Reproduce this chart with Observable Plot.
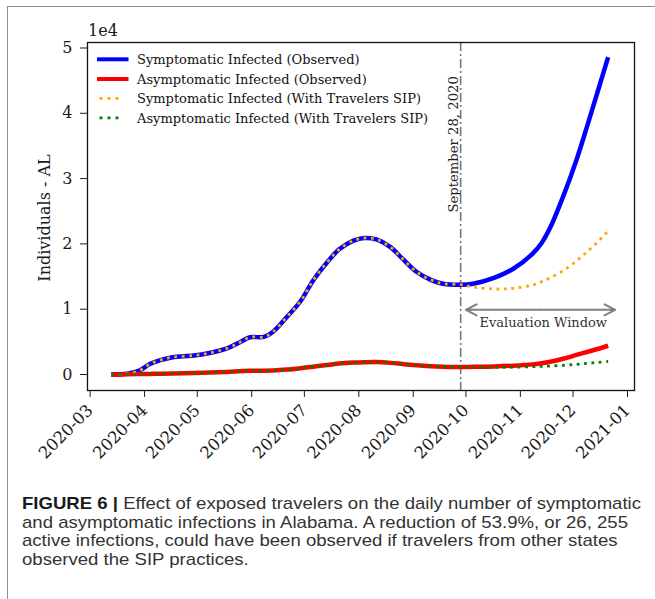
<!DOCTYPE html>
<html><head><meta charset="utf-8">
<script src="https://cdn.jsdelivr.net/npm/d3@7"></script>
<script src="https://cdn.jsdelivr.net/npm/@observablehq/plot@0.6"></script>
<style>
html,body{margin:0;padding:0;background:#fff;}
#wrap{position:relative;width:655px;height:599px;overflow:hidden;}
#box{position:absolute;left:7px;top:6px;width:700px;height:700px;border-top:1.5px solid #8f8f8f;border-left:1.5px solid #8f8f8f;}
#chart{position:absolute;left:0;top:0;}
#caption{position:absolute;left:22px;top:494px;font-family:"Liberation Sans",sans-serif;font-size:16.2px;line-height:18.7px;color:#333;white-space:nowrap;transform-origin:0 0;}
#caption b{color:#1a1a1a;}
</style></head>
<body>
<div id="wrap">
<div id="box"></div>
<div id="chart"></div>
<div id="caption"></div>
</div>
<script>
// ---- data ----
const historyDates = ["2020-03-13","2020-03-22","2020-03-29","2020-04-04","2020-04-10","2020-04-17","2020-04-29","2020-05-08","2020-05-18","2020-05-25","2020-05-31","2020-06-08","2020-06-13","2020-06-21","2020-06-29","2020-07-06","2020-07-14","2020-07-21","2020-07-29","2020-08-04","2020-08-11","2020-08-19","2020-08-26","2020-09-03","2020-09-11","2020-09-18","2020-09-28"];
const symptomaticHistory = [0,100,600,1600,2200,2650,2900,3300,4000,4900,5700,5750,6500,8800,11300,14400,17200,19200,20500,20900,20700,19500,17700,15700,14500,13900,13750];
const asymptomaticHistory = [0,20,60,90,120,160,230,300,400,500,580,580,610,750,970,1200,1450,1680,1820,1880,1900,1780,1600,1400,1270,1200,1150];
const projectionDates = ["2020-09-28","2020-10-05","2020-10-17","2020-10-28","2020-11-08","2020-11-13","2020-11-18","2020-11-26","2020-12-03","2020-12-09","2020-12-15","2020-12-21"];
const symptomaticObserved = [13750,13900,14800,16200,18500,20100,22500,27700,32900,38000,43300,48600];
const asymptomaticObserved = [1150,1170,1230,1350,1550,1720,1950,2450,3000,3450,3900,4400];
const symptomaticSIP = [13750,13400,13100,13200,13700,14200,14800,16000,17400,18800,20300,22000];
const asymptomaticSIP = [1150,1120,1100,1130,1200,1250,1300,1420,1560,1700,1850,2000];

const seriesNames = ["Symptomatic Infected (Observed)","Asymptomatic Infected (Observed)","Symptomatic Infected (With Travelers SIP)","Asymptomatic Infected (With Travelers SIP)"];
const seriesColors = ["#0000ff","#ff0000","#ffa500","#008000"];
const xTickLabels = ["2020-03","2020-04","2020-05","2020-06","2020-07","2020-08","2020-09","2020-10","2020-11","2020-12","2021-01"];
const yTicks = [0,10000,20000,30000,40000,50000];
const cutoffDate = "2020-09-28";
const cutoffLabel = "September 28, 2020";
const windowDates = ["2020-10-01","2020-12-25"];
const windowLabel = "Evaluation Window";
const windowLabelDate = "2020-11-14";
const yLabel = "Individuals - AL";
const captionLines = [
  ["FIGURE 6 |", " Effect of exposed travelers on the daily number of symptomatic"],
  ["", "and asymptomatic infections in Alabama. A reduction of 53.9%, or 26, 255"],
  ["", "active infections, could have been observed if travelers from other states"],
  ["", "observed the SIP practices."]
];

// ---- build ----
const parse = d3.utcParse("%Y-%m-%d");
const mk = (dates, vals) => dates.map((d, i) => ({date: parse(d), value: vals[i]}));
const symObs = mk(historyDates, symptomaticHistory).concat(mk(projectionDates, symptomaticObserved).slice(1));
const asyObs = mk(historyDates, asymptomaticHistory).concat(mk(projectionDates, asymptomaticObserved).slice(1));
const symSIP = mk(historyDates, symptomaticHistory).concat(mk(projectionDates, symptomaticSIP).slice(1));
const asySIP = mk(historyDates, asymptomaticHistory).concat(mk(projectionDates, asymptomaticSIP).slice(1));
const xTicks = xTickLabels.map(d3.utcParse("%Y-%m"));
const cut = parse(cutoffDate);
const w0 = parse(windowDates[0]), w1 = parse(windowDates[1]);
const wMid = new Date((+w0 + +w1) / 2);
const arrowY = 9900;
const crv = "catmull-rom";

const chart = Plot.plot({
  width: 655, height: 470,
  marginLeft: 87, marginRight: 21, marginTop: 42, marginBottom: 80,
  style: {fontFamily: "DejaVu Serif", fontSize: "16px", color: "#1a1a1a", background: "transparent"},
  x: {type: "utc", domain: [new Date(Date.UTC(2020,1,28,12)), new Date(Date.UTC(2021,0,5))]},
  y: {domain: [-2450, 50840]},
  marks: [
    Plot.ruleX([cut], {stroke: "#777", strokeWidth: 1.6, strokeDasharray: "9 3 2 3"}),
    Plot.line(symObs, {x: "date", y: "value", stroke: seriesColors[0], strokeWidth: 4.5, curve: crv, strokeLinecap: "butt"}),
    Plot.line(asyObs, {x: "date", y: "value", stroke: seriesColors[1], strokeWidth: 4.5, curve: crv, strokeLinecap: "butt"}),
    Plot.line(symSIP, {x: "date", y: "value", stroke: seriesColors[2], strokeWidth: 2.8, strokeDasharray: "2.8 4.6", curve: crv, strokeLinecap: "butt"}),
    Plot.line(asySIP, {x: "date", y: "value", stroke: seriesColors[3], strokeWidth: 2.8, strokeDasharray: "2.8 4.6", curve: crv, strokeLinecap: "butt"}),
    Plot.arrow([{a: wMid, b: w0}, {a: wMid, b: w1}], {x1: "a", x2: "b", y1: () => arrowY, y2: () => arrowY, stroke: "#808080", strokeWidth: 2, headLength: 9, headAngle: 55}),
    Plot.text([windowLabel], {x: () => parse(windowLabelDate), y: () => 7900, text: d => d, fontSize: 13, fill: "#333"}),
    Plot.text([cutoffLabel], {x: () => cut, y: () => 24800, text: d => d, rotate: -90, textAnchor: "start", lineAnchor: "middle", dx: -7, fontSize: 13.2, fill: "#222"}),
    Plot.frame({stroke: "#111", strokeWidth: 1.3}),
    Plot.axisY({ticks: yTicks, tickFormat: d => d / 1e4, tickSize: 7, tickPadding: 8, label: null, fontSize: 16}),
    Plot.axisX({ticks: xTicks, tickFormat: d3.utcFormat("%Y-%m"), tickRotate: -45, tickSize: 7, tickPadding: 10, label: null, fontSize: 16.5})
  ]
});
document.getElementById("chart").appendChild(chart);

// annotations outside the data marks
const svg = d3.select(chart);
svg.append("text").attr("x", 88).attr("y", 36).attr("text-anchor", "start").attr("font-size", 16).attr("fill", "#1a1a1a").text("1e4");
svg.append("text").attr("transform", "translate(50,218) rotate(-90)").attr("text-anchor", "middle")
  .attr("font-size", 16).attr("fill", "#1a1a1a").text(yLabel);
const lg = svg.append("g").attr("text-anchor", "start");
const rowsY = [59.3, 79, 98.4, 117.8];
seriesNames.forEach((name, i) => {
  const dotted = i >= 2;
  lg.append("line").attr("x1", dotted ? 99.5 : 97).attr("x2", dotted ? 121 : 128.5)
    .attr("y1", rowsY[i]).attr("y2", rowsY[i]).attr("stroke", seriesColors[i])
    .attr("stroke-width", dotted ? 2.8 : 4).attr("stroke-dasharray", dotted ? "3 5" : null);
  lg.append("text").attr("x", 137).attr("y", rowsY[i] + 5).attr("text-anchor", "start").attr("font-size", 13).attr("fill", "#111").text(name);
});

const cap = d3.select("#caption");
captionLines.forEach(([b, t]) => {
  const div = cap.append("div");
  if (b) div.append("b").text(b);
  div.append("span").text(t);
});
// fit the caption's first line to the reference width
const capNode = document.getElementById("caption");
const firstW = capNode.firstChild.getBoundingClientRect().width;
capNode.style.transform = `scaleX(${619 / firstW})`;
</script>
</body></html>
